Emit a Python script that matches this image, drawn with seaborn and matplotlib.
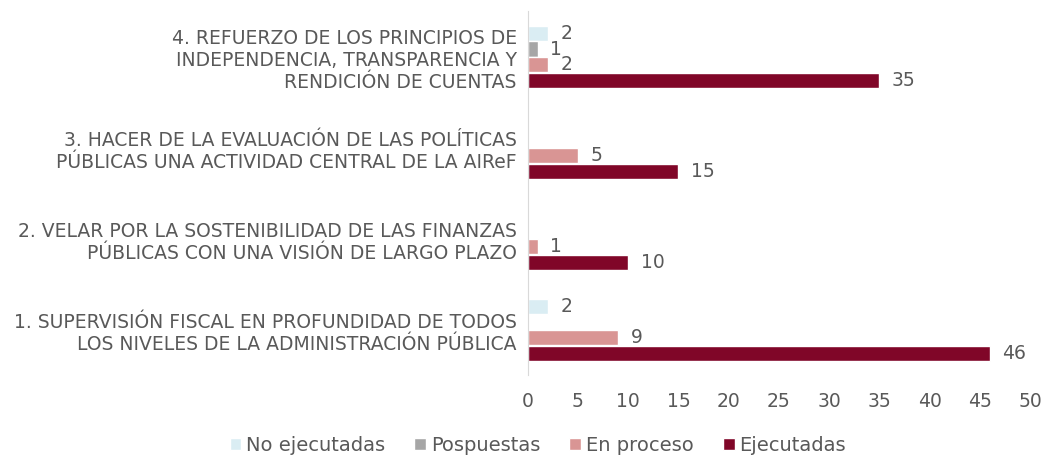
import pandas as pd
import matplotlib.pyplot as plt
import seaborn as sns

# categories, top to bottom as drawn
categories = [
    "4. REFUERZO DE LOS PRINCIPIOS DE\nINDEPENDENCIA, TRANSPARENCIA Y\nRENDICIÓN DE CUENTAS",
    "3. HACER DE LA EVALUACIÓN DE LAS POLÍTICAS\nPÚBLICAS UNA ACTIVIDAD CENTRAL DE LA AIReF",
    "2. VELAR POR LA SOSTENIBILIDAD DE LAS FINANZAS\nPÚBLICAS CON UNA VISIÓN DE LARGO PLAZO",
    "1. SUPERVISIÓN FISCAL EN PROFUNDIDAD DE TODOS\nLOS NIVELES DE LA ADMINISTRACIÓN PÚBLICA",
]
series = ["No ejecutadas", "Pospuestas", "En proceso", "Ejecutadas"]
no_ejecutadas = [2, 0, 0, 2]
pospuestas = [1, 0, 0, 0]
en_proceso = [2, 5, 1, 9]
ejecutadas = [35, 15, 10, 46]
colors = ["#daedf3", "#a6a6a6", "#d99594", "#800628"]

rows = []
for s, vals in zip(series, [no_ejecutadas, pospuestas, en_proceso, ejecutadas]):
    for c, v in zip(categories, vals):
        rows.append({"cat": c, "serie": s, "valor": v})
df = pd.DataFrame(rows)

sns.set_style("white")
plt.rcParams["font.family"] = ["DejaVu Sans"]
text_col = "#595959"
fs = 13.5

fig, ax = plt.subplots(figsize=(10.43, 4.59), dpi=100)
fig.subplots_adjust(left=0.506, right=0.9875, top=0.975, bottom=0.182)

sns.barplot(data=df, y="cat", x="valor", hue="serie", order=categories,
            hue_order=series, palette=colors, orient="h", width=0.7,
            gap=0.05, saturation=1, ax=ax, legend=True)

for cont in ax.containers:
    labels = [f"{int(b.get_width())}" if b.get_width() > 0 else "" for b in cont]
    ax.bar_label(cont, labels=labels, padding=9, fontsize=fs, color=text_col)

ax.set_xlim(0, 50)
ax.set_xticks(range(0, 51, 5))
ax.set_xlabel("")
ax.set_ylabel("")
ax.tick_params(axis="both", length=0, labelsize=fs, colors=text_col)
ax.tick_params(axis="y", pad=8)
ax.tick_params(axis="x", pad=12)
for side in ["top", "right", "bottom"]:
    ax.spines[side].set_visible(False)
ax.spines["left"].set_color("#d9d9d9")

ax.legend(loc="upper center", bbox_to_anchor=(0.02, -0.118), ncol=4,
          frameon=False, fontsize=14, handlelength=0.6, handleheight=0.6,
          handletextpad=0.25, columnspacing=1.5, labelcolor=text_col)

fig.savefig("out.png", dpi=100)
